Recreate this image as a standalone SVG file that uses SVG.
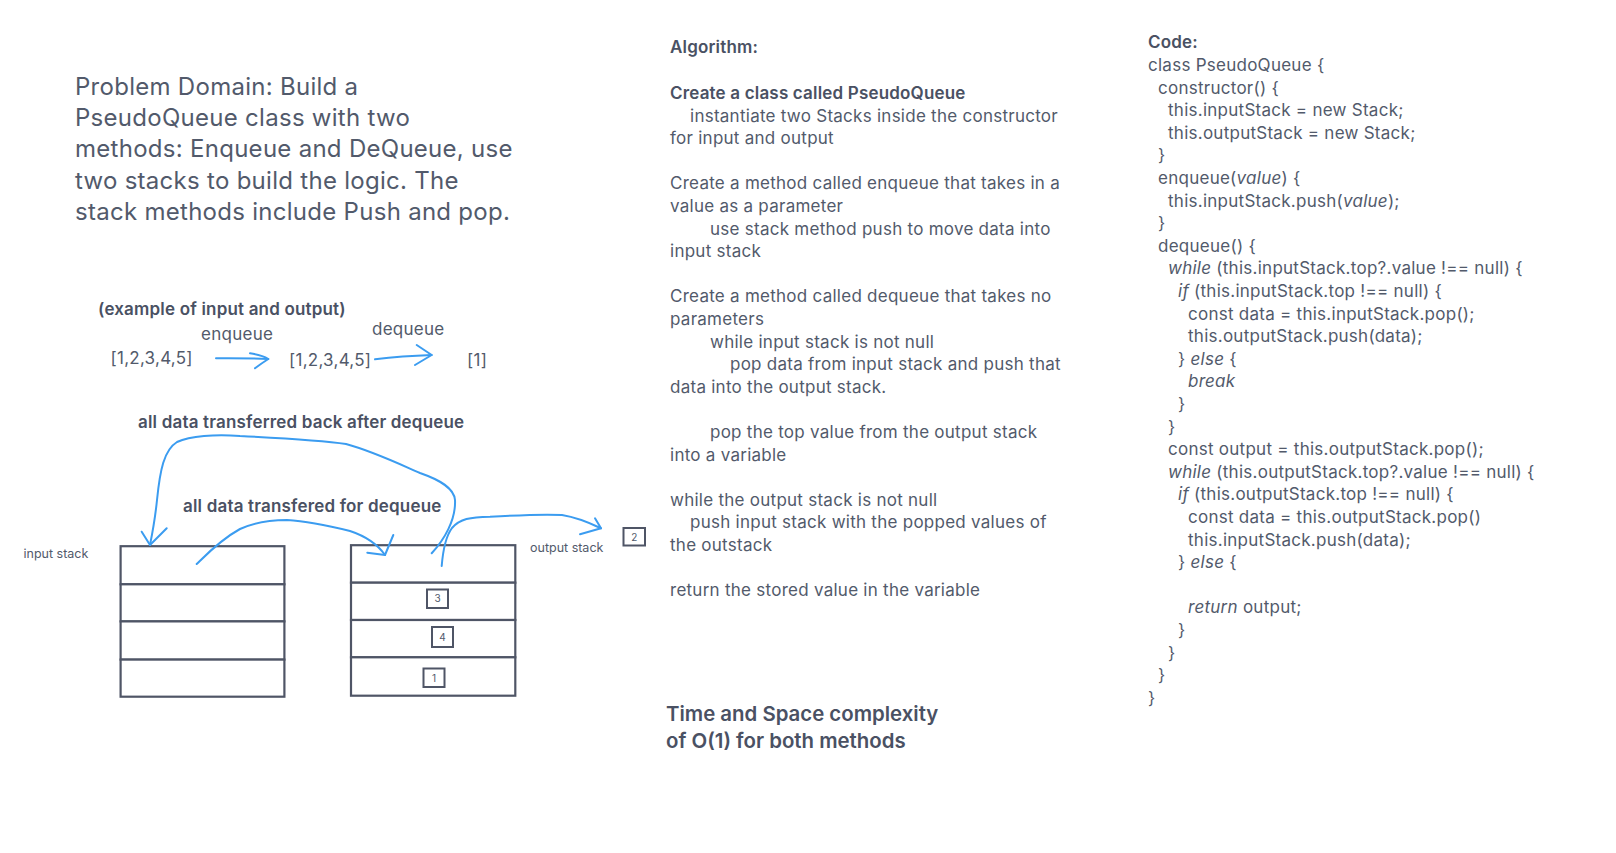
<svg xmlns="http://www.w3.org/2000/svg" width="1616" height="853" viewBox="0 0 1616 853">
<style>
text{font-family:Inter,"Liberation Sans",sans-serif;fill:#525a6b}
.t{font-size:17px;letter-spacing:0.26px}
.b{font-size:17px;font-weight:600;fill:#4a5163;letter-spacing:0.18px}
.pd{font-size:24px;letter-spacing:0.28px}
.big{font-size:20.4px;font-weight:600;fill:#4a5163}
.sm{font-size:12.5px}
.num{font-size:10px;text-anchor:middle}
.stk{fill:#fff;stroke:#4f5566;stroke-width:2.2}
.box{fill:#fff;stroke:#4f5566;stroke-width:2}
.c{fill:none;stroke:#3b9cf0;stroke-width:2;stroke-linecap:round;stroke-linejoin:round}
.it{font-style:italic}
</style>
<rect width="1616" height="853" fill="#fff"/>

<g id="problem-domain">
<text class="pd" x="75" y="95">Problem Domain: Build a</text>
<text class="pd" x="75" y="126.2">PseudoQueue class with two</text>
<text class="pd" x="75" y="157.4">methods: Enqueue and DeQueue, use</text>
<text class="pd" x="75" y="188.6">two stacks to build the logic. The</text>
<text class="pd" x="75" y="219.8">stack methods include Push and pop.</text>
</g>

<g id="example">
<text class="b" x="98" y="315">(example of input and output)</text>
<text class="t" x="201" y="340">enqueue</text>
<text class="t" x="372" y="335">dequeue</text>
<text class="t" x="110.5" y="364">[1,2,3,4,5]</text>
<text class="t" x="289" y="366">[1,2,3,4,5]</text>
<text class="t" x="467" y="366">[1]</text>
</g>

<g id="label-back"><text class="b" x="138" y="428">all data transferred back after dequeue</text></g>
<g id="label-for"><text class="b" x="183" y="512">all data transfered for dequeue</text></g>

<g id="input-stack">
<text class="sm" x="23.5" y="557.5">input stack</text>
<rect class="stk" x="120.6" y="546.2" width="163.8" height="38.1"/>
<rect class="stk" x="120.6" y="584.3" width="163.8" height="37.1"/>
<rect class="stk" x="120.6" y="621.4" width="163.8" height="38.2"/>
<rect class="stk" x="120.6" y="659.6" width="163.8" height="37.1"/>
</g>

<g id="output-stack">
<text class="sm" x="530" y="552">output stack</text>
<rect class="stk" x="351" y="545.2" width="164.3" height="37.5"/>
<rect class="stk" x="351" y="582.7" width="164.3" height="37.3"/>
<rect class="stk" x="351" y="620" width="164.3" height="37.3"/>
<rect class="stk" x="351" y="657.3" width="164.3" height="38.4"/>
</g>

<g id="item-3"><rect class="box" x="427" y="589.5" width="21" height="18.5"/><text class="num" x="437.5" y="602">3</text></g>
<g id="item-4"><rect class="box" x="432" y="627" width="21" height="20"/><text class="num" x="442.5" y="640.5">4</text></g>
<g id="item-1"><rect class="box" x="423.5" y="668.5" width="21" height="18.5"/><text class="num" x="434" y="681.5">1</text></g>
<g id="item-2"><rect class="box" x="623.5" y="528" width="21.5" height="17.5"/><text class="num" x="634.2" y="540.5">2</text></g>

<g id="algorithm">
<text class="b" x="670" y="53.3">Algorithm:</text>
<text class="b" x="670" y="99">Create a class called PseudoQueue</text>
<text class="t" x="690" y="121.6">instantiate two Stacks inside the constructor</text>
<text class="t" x="670" y="144.2">for input and output</text>
<text class="t" x="670" y="189.4">Create a method called enqueue that takes in a</text>
<text class="t" x="670" y="212">value as a parameter</text>
<text class="t" x="710" y="234.6">use stack method push to move data into</text>
<text class="t" x="670" y="257.2">input stack</text>
<text class="t" x="670" y="302.4">Create a method called dequeue that takes no</text>
<text class="t" x="670" y="325">parameters</text>
<text class="t" x="710" y="347.6">while input stack is not null</text>
<text class="t" x="730" y="370.2">pop data from input stack and push that</text>
<text class="t" x="670" y="392.8">data into the output stack.</text>
<text class="t" x="710" y="438">pop the top value from the output stack</text>
<text class="t" x="670" y="460.6">into a variable</text>
<text class="t" x="670" y="505.8">while the output stack is not null</text>
<text class="t" x="690" y="528.4">push input stack with the popped values of</text>
<text class="t" x="670" y="551">the outstack</text>
<text class="t" x="670" y="596.2">return the stored value in the variable</text>
</g>

<g id="complexity">
<text class="big" x="666" y="721">Time and Space complexity</text>
<text class="big" x="666" y="747.5">of O(1) for both methods</text>
</g>

<g id="code">
<text class="b" x="1148" y="48.3">Code:</text>
<text class="t" x="1148" y="70.9">class PseudoQueue {</text>
<text class="t" x="1158" y="93.5">constructor() {</text>
<text class="t" x="1168" y="116.1">this.inputStack = new Stack;</text>
<text class="t" x="1168" y="138.7">this.outputStack = new Stack;</text>
<text class="t" x="1158" y="161.3">}</text>
<text class="t" x="1158" y="183.9">enqueue(<tspan class="it">value</tspan>) {</text>
<text class="t" x="1168" y="206.5">this.inputStack.push(<tspan class="it">value</tspan>);</text>
<text class="t" x="1158" y="229.1">}</text>
<text class="t" x="1158" y="251.7">dequeue() {</text>
<text class="t" x="1168" y="274.3"><tspan class="it">while</tspan> (this.inputStack.top?.value !== null) {</text>
<text class="t" x="1178" y="296.9"><tspan class="it">if</tspan> (this.inputStack.top !== null) {</text>
<text class="t" x="1188" y="319.5">const data = this.inputStack.pop();</text>
<text class="t" x="1188" y="342.1">this.outputStack.push(data);</text>
<text class="t" x="1178" y="364.7">} <tspan class="it">else</tspan> {</text>
<text class="t it" x="1188" y="387.3">break</text>
<text class="t" x="1178" y="409.9">}</text>
<text class="t" x="1168" y="432.5">}</text>
<text class="t" x="1168" y="455.1">const output = this.outputStack.pop();</text>
<text class="t" x="1168" y="477.7"><tspan class="it">while</tspan> (this.outputStack.top?.value !== null) {</text>
<text class="t" x="1178" y="500.3"><tspan class="it">if</tspan> (this.outputStack.top !== null) {</text>
<text class="t" x="1188" y="522.9">const data = this.outputStack.pop()</text>
<text class="t" x="1188" y="545.5">this.inputStack.push(data);</text>
<text class="t" x="1178" y="568.1">} <tspan class="it">else</tspan> {</text>
<text class="t" x="1188" y="613.3"><tspan class="it">return</tspan> output;</text>
<text class="t" x="1178" y="635.9">}</text>
<text class="t" x="1168" y="658.5">}</text>
<text class="t" x="1158" y="681.1">}</text>
<text class="t" x="1148" y="703.7">}</text>
</g>

<g id="connectors">
<path class="c" d="M216,358.3 Q242,358 268.3,359"/>
<path class="c" d="M250,353.3 Q262,355 268.3,359 Q262,363 255,368.3"/>
<path class="c" d="M375,359.3 Q402,356 431.7,355"/>
<path class="c" d="M416.7,345 L431.7,355 L415,365"/>
<path class="c" d="M431.7,553.3 C444,540 456,520 455,500 C454,488 440,480 420,473 C395,462 372,451 346,444 C320,440 280,438 240,436 C215,434 190,436 177,442 C164,450 160,470 157,500 C155,520 152,535 150,545"/>
<path class="c" d="M141.7,531.7 L150,545 L166.7,528.3"/>
<path class="c" d="M196.7,564 C205,556 220,540 240,529 C255,522 270,520 287,520 C305,521 330,526 350,531 C368,537 378,545 385,555"/>
<path class="c" d="M367.3,552.7 L385,555 L393.3,535"/>
<path class="c" d="M441.7,566 C443,550 446,536 452,528 C460,519 470,517 490,516.7 C520,515 545,514 562,515 C580,518 592,524 601,528.3"/>
<path class="c" d="M595,518.3 L601,528.3 L580,534.3"/>
</g>
</svg>
